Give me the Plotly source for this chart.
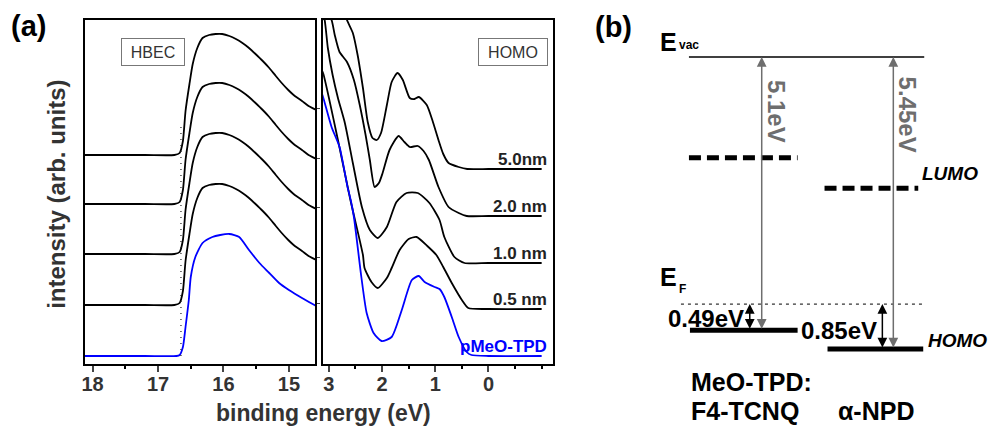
import plotly.graph_objects as go

W, H = 999, 429          # window size of the reference
OFF = 8                  # page body margin of the browser
FW, FH = W - OFF, H - OFF
FONT = "Arial, Liberation Sans, sans-serif"

# ---------------- data ----------------
labels = ["5.0nm", "2.0 nm", "1.0 nm", "0.5 nm", "pMeO-TPD"]
colors = ["black", "black", "black", "black", "#0000ff"]

# vertical offsets of the stacked spectra (arb. units)
hbec_offsets = [209, 160, 110, 59, 8]
homo_offsets = [195, 148, 101, 55, 8]

# HBEC (secondary electron cut-off) spectra
hbec_be_black = [18.3, 17.2, 16.75, 16.67, 16.62, 16.58, 16.52, 16.47, 16.40, 16.32, 16.22,
                 16.12, 16.02, 15.91, 15.81, 15.71, 15.61, 15.51, 15.40, 15.30, 15.20, 15.11,
                 15.01, 14.91, 14.80, 14.70, 14.55]
hbec_int_black = [0, 0, 0, 2, 14, 44, 71, 91, 107, 117, 120,
                  121, 121, 119, 116, 112, 107, 101, 94, 87, 79, 72,
                  65, 59, 54, 49, 44]
hbec_be_blue = [18.3, 17.2, 16.72, 16.67, 16.62, 16.58, 16.53, 16.50, 16.43, 16.32, 16.17,
                16.05, 15.91, 15.76, 15.61, 15.45, 15.30, 15.15, 15.00, 14.80, 14.61, 14.55]
hbec_int_blue = [0, 0, 0, 1, 9, 29, 56, 79, 99, 113, 119,
                 121, 122, 119, 106, 93, 83, 73, 66, 58, 51, 49]
cutoff_be = 16.65

# HOMO region spectra
homo_be = [
    [2.80, 2.66, 2.55, 2.46, 2.36, 2.27, 2.18, 2.10, 2.02, 1.91, 1.82, 1.71, 1.61, 1.48,
     1.39, 1.31, 1.16, 1.05, 0.94, 0.85, 0.75, 0.56, 0.40, 0.0, -0.5, -1.0],
    [3.15, 2.95, 2.89, 2.80, 2.66, 2.53, 2.42, 2.31, 2.23, 2.14, 2.06, 1.99, 1.86, 1.69,
     1.58, 1.48, 1.33, 1.22, 1.12, 0.94, 0.75, 0.56, 0.41, 0.0, -1.0],
    [3.15, 3.08, 3.02, 2.93, 2.83, 2.70, 2.55, 2.38, 2.23, 2.08, 1.91, 1.73, 1.54, 1.33,
     1.11, 0.92, 0.83, 0.64, 0.45, 0.0, -1.0],
    [3.15, 3.11, 2.83, 2.60, 2.36, 2.33, 2.20, 2.08, 1.91, 1.82, 1.67, 1.50, 1.35, 1.15,
     0.98, 0.85, 0.69, 0.50, 0.38, 0.0, -1.0],
    [3.15, 3.11, 2.95, 2.80, 2.65, 2.59, 2.53, 2.39, 2.29, 2.16, 2.01, 1.82, 1.63, 1.44,
     1.31, 1.20, 1.01, 0.92, 0.83, 0.69, 0.56, 0.41, 0.32, 0.0, -1.0],
]
homo_int = [
    [175, 149, 136, 114, 81, 47, 31, 29, 36, 64, 87, 96, 89, 71,
     70, 72, 64, 48, 29, 15, 6, 2, 0, 0, 0, 0],
    [215, 196, 181, 164, 154, 136, 111, 81, 56, 29, 33, 43, 66, 80,
     74, 69, 70, 65, 56, 29, 9, 3, 0, 0, 0],
    [255, 243, 215, 188, 165, 140, 100, 56, 33, 25, 36, 61, 70, 70,
     60, 43, 26, 6, 0, 0, 0],
    [240, 236, 169, 110, 54, 41, 27, 21, 31, 41, 59, 70, 72, 63,
     54, 42, 26, 9, 1, 0, 0],
    [265, 259, 229, 209, 169, 156, 139, 79, 43, 23, 15, 19, 46, 76,
     80, 74, 69, 67, 59, 39, 19, 4, 1, 0, 0],
]

hbec_ticks = [18, 17, 16, 15]
hbec_minor = [17.5, 16.5, 15.5]
homo_ticks = [3, 2, 1, 0]
homo_minor = [2.5, 1.5, 0.5, -0.5, -1.0]

# energy level diagram (eV, relative to vacuum level)
e_vac = 0.0
materials = ["MeO-TPD:", "F4-TCNQ", "α-NPD"]
ionization = [5.1, 5.45]
lumo_level = [-1.88, -2.45]
homo_to_ef = [0.49, 0.85]
ionization_labels = ["5.1eV", "5.45eV"]
barrier_labels = ["0.49eV", "0.85eV"]

# ---------------- helpers (window pixel -> paper) ----------------
def px_x(p):
    return (p - OFF) / FW

def px_y(p):
    return 1 - (p - OFF) / FH

PX_PER_EV = 53.6
VAC_PX = 57

fig = go.Figure()

# HBEC traces
for lab, off, col in zip(labels, hbec_offsets, colors):
    if lab == "pMeO-TPD":
        xs, ys = hbec_be_blue, hbec_int_blue
    else:
        xs, ys = hbec_be_black, hbec_int_black
    fig.add_trace(go.Scatter(x=xs, y=[off + v for v in ys], mode="lines",
                             line=dict(color=col, width=1.8, shape="spline", smoothing=0.6),
                             xaxis="x", yaxis="y", showlegend=False, hoverinfo="skip"))

# cut-off dotted line
fig.add_trace(go.Scatter(x=[cutoff_be, cutoff_be], y=[hbec_offsets[-1], hbec_offsets[1] + 80],
                         mode="lines", line=dict(color="#222", width=1.2, dash="1px,5px"),
                         xaxis="x", yaxis="y", showlegend=False, hoverinfo="skip"))

# HOMO traces
for lab, off, col, xs, ys in zip(labels, homo_offsets, colors, homo_be, homo_int):
    fig.add_trace(go.Scatter(x=xs, y=[off + v for v in ys], mode="lines",
                             line=dict(color=col, width=1.8, shape="spline", smoothing=0.6),
                             xaxis="x2", yaxis="y2", showlegend=False, hoverinfo="skip"))

ydom = [px_y(364), px_y(20)]
axis_common = dict(showline=True, linecolor="black", linewidth=2, mirror=True,
                   showgrid=False, zeroline=False)
tickfont = dict(family=FONT, size=20, color="#333", weight="bold")

fig.update_layout(
    width=FW, height=FH, margin=dict(l=0, r=0, t=0, b=0),
    paper_bgcolor="white", plot_bgcolor="white",
    xaxis=dict(domain=[px_x(82), px_x(313)], range=[18.12, 14.6], anchor="y",
               tickmode="array", tickvals=hbec_ticks, ticks="outside", ticklen=6, tickwidth=2,
               tickfont=tickfont, ticklabelstandoff=-5,
               minor=dict(tickmode="array", tickvals=hbec_minor, ticks="outside", ticklen=3,
                          tickwidth=1.5, tickcolor="black"),
               **axis_common),
    yaxis=dict(domain=ydom, range=[0, 344], anchor="x", side="right",
               tickmode="array", tickvals=[61, 107, 157, 206, 256], ticks="outside", ticklen=3,
               tickwidth=1, showticklabels=False, **axis_common),
    xaxis2=dict(domain=[px_x(321), px_x(552)], range=[3.11, -1.22], anchor="y2",
                tickmode="array", tickvals=homo_ticks, ticks="outside", ticklen=6, tickwidth=2,
                tickfont=tickfont, ticklabelstandoff=-5,
                minor=dict(tickmode="array", tickvals=homo_minor, ticks="outside", ticklen=3,
                           tickwidth=1.5, tickcolor="black"),
                **axis_common),
    yaxis2=dict(domain=ydom, range=[0, 344], anchor="x2", showticklabels=False, ticks="",
                **axis_common),
    xaxis3=dict(domain=[px_x(590), 1], range=[0, W - 590], visible=False, anchor="y3"),
    yaxis3=dict(domain=[0, 1],
                range=[-(H - VAC_PX) / PX_PER_EV, -(OFF - VAC_PX) / PX_PER_EV],
                visible=False, anchor="x3"),
)

ann = []

def txt(x, y, text, size, color="black", bold=True, italic=False, xanchor="center",
        yanchor="middle", xref="paper", yref="paper", angle=0, **kw):
    t = text
    if italic:
        t = "<i>" + t + "</i>"
    ann.append(dict(x=x, y=y, xref=xref, yref=yref, text=t, showarrow=False,
                    xanchor=xanchor, yanchor=yanchor, textangle=angle,
                    font=dict(family=FONT, size=size, color=color,
                              weight="bold" if bold else "normal"), **kw))

# panel (a) texts
txt(px_x(26), px_y(26), "(a)", 29)
txt(px_x(612), px_y(27), "(b)", 29)
txt(px_x(54), px_y(194), "intensity (arb. units)", 24, color="#333", angle=-90)
txt(px_x(321), px_y(413), "binding energy (eV)", 23, color="#333")
ann.append(dict(x=px_x(118.5), y=px_y(38), xref="paper", yref="paper", text="HBEC",
                showarrow=False, font=dict(family=FONT, size=16, color="#333"),
                bordercolor="#777", borderwidth=1, borderpad=3, width=56, height=20,
                bgcolor="white"))
ann.append(dict(x=px_x(511.5), y=px_y(38), xref="paper", yref="paper", text="HOMO",
                showarrow=False, font=dict(family=FONT, size=16, color="#333"),
                bordercolor="#777", borderwidth=1, borderpad=3, width=62, height=20,
                bgcolor="white"))
for lab, off, col in zip(labels, homo_offsets, colors):
    txt(-1.13, off + 10, lab, 17, color=col if col != "black" else "#222",
        xanchor="right", xref="x2", yref="y2")

# panel (b) energy-level diagram
ef = -(ionization[0] - homo_to_ef[0])
homo_lv = [-v for v in ionization]
shapes = []
def hline(x0, x1, y, width, dash="solid", color="black"):
    shapes.append(dict(type="line", xref="x3", yref="y3", x0=x0, x1=x1, y0=y, y1=y,
                       line=dict(color=color, width=width, dash=dash)))

hline(98, 334, e_vac, 1.6)
hline(98, 207, lumo_level[0], 5, dash="12px,6px")
hline(234, 328, lumo_level[1], 5, dash="12px,6px")
hline(90, 333, ef, 1, dash="3px,4px")
hline(99, 207, homo_lv[0], 5)
hline(237, 333, homo_lv[1], 5)
fig.update_layout(shapes=shapes)

def arrow(x, y0, y1, color, width):
    ann.append(dict(x=x, y=y1, ax=x, ay=y0, xref="x3", yref="y3", axref="x3", ayref="y3",
                    text="", showarrow=True, arrowhead=2, startarrowhead=2,
                    arrowside="end+start", arrowsize=1.3, startarrowsize=1.3,
                    arrowwidth=width, arrowcolor=color, standoff=0, startstandoff=0))

arrow(171, homo_lv[0], e_vac, "#6e6e6e", 1.5)
arrow(303, homo_lv[1], e_vac, "#6e6e6e", 1.5)
arrow(159, homo_lv[0], ef, "black", 1.5)
arrow(292, homo_lv[1], ef, "black", 1.5)

txt(186, -1.02, ionization_labels[0], 24, color="#6e6e6e", bold=True, angle=90,
    xref="x3", yref="y3")
txt(317, -1.08, ionization_labels[1], 24, color="#6e6e6e", bold=True, angle=90,
    xref="x3", yref="y3")
txt(155, -4.88, barrier_labels[0], 24, xanchor="right", xref="x3", yref="y3")
txt(289, -5.1, barrier_labels[1], 24, xanchor="right", xref="x3", yref="y3")
txt(330, -2.18, "LUMO", 19, italic=True, xanchor="left", xref="x3", yref="y3")
txt(336, -5.28, "HOMO", 19, italic=True, xanchor="left", xref="x3", yref="y3")
txt(67, 0.28, "E", 25, xanchor="left", xref="x3", yref="y3")
txt(86, 0.22, "vac", 12, xanchor="left", xref="x3", yref="y3")
txt(67, -4.10, "E", 25, xanchor="left", xref="x3", yref="y3")
txt(86, -4.33, "F", 12, xanchor="left", xref="x3", yref="y3")
txt(98, -6.07, materials[0], 25, xanchor="left", xref="x3", yref="y3")
txt(98, -6.6, materials[1], 25, xanchor="left", xref="x3", yref="y3")
txt(246, -6.6, materials[2], 25, xanchor="left", xref="x3", yref="y3")

fig.update_layout(annotations=ann)
fig.write_html("out.html")
